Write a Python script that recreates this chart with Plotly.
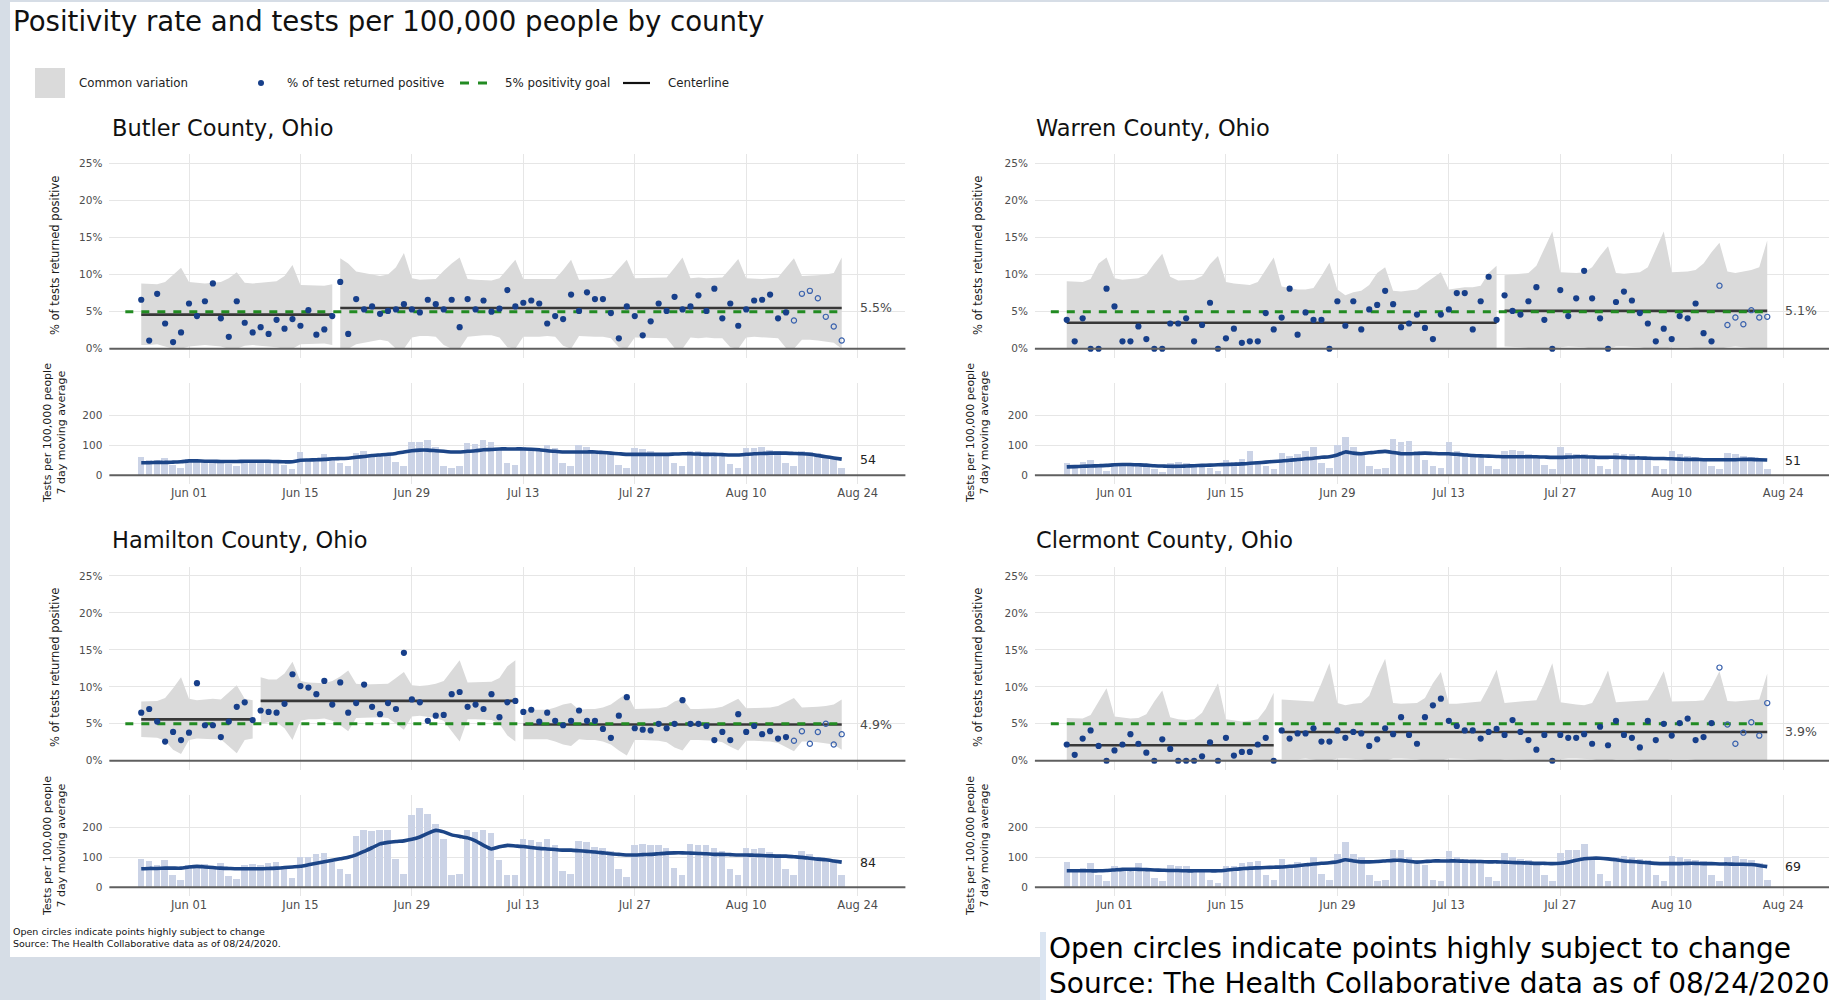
import plotly.graph_objects as go
import pandas as pd

FONT = "DejaVu Sans, Liberation Sans, Arial, sans-serif"

# ---------------- data ----------------
dates = [d.strftime("%Y-%m-%d") for d in pd.date_range("2020-05-26", "2020-08-22", freq="D")]
tick_dates = ["2020-06-01", "2020-06-15", "2020-06-29", "2020-07-13", "2020-07-27", "2020-08-10", "2020-08-24"]
tick_labels = ["Jun 01", "Jun 15", "Jun 29", "Jul 13", "Jul 27", "Aug 10", "Aug 24"]
pct_ticks = [0, 5, 10, 15, 20, 25]
pct_labels = ["0%", "5%", "10%", "15%", "20%", "25%"]
test_ticks = [0, 100, 200]
goal = 5
goal_start = "2020-05-24"
open_from = "2020-08-16"
label_date = "2020-08-24"

county_names = ["Butler County, Ohio", "Warren County, Ohio", "Hamilton County, Ohio", "Clermont County, Ohio"]

# Butler
butler_pos = [6.6, 1.1, 7.4, 3.4, 0.9, 2.2, 6.1,
              4.4, 6.4, 8.8, 4.1, 1.6, 6.4, 3.5,
              2.2, 2.9, 2.0, 3.9, 2.7, 4.0, 3.1,
              5.2, 1.9, 2.6, 4.4, 9.0, 2.0, 6.7,
              5.3, 5.7, 4.7, 5.1, 5.3, 6.0, 5.3,
              4.9, 6.6, 6.0, 5.3, 6.6, 2.9, 6.7,
              5.3, 6.5, 5.0, 5.4, 7.9, 5.7, 6.2,
              6.5, 6.1, 3.4, 4.4, 4.0, 7.3, 5.1,
              7.6, 6.7, 6.7, 4.8, 1.4, 5.7, 4.4,
              1.8, 3.7, 6.1, 5.1, 7.0, 5.3, 5.7,
              7.2, 5.1, 8.1, 4.1, 6.1, 3.1, 5.3,
              6.5, 6.6, 7.3, 4.1, 4.9, 3.8, 7.4,
              7.8, 6.8, 4.3, 3.0, 1.1]
butler_hi = [8.8, 8.8, 8.7, 9.0, 10.0, 10.9, 9.0,
             8.9, 8.8, 8.9, 9.0, 9.5, 10.3, 8.9,
             8.8, 8.9, 9.0, 9.1, 9.8, 11.3, 8.6,
             8.6, 8.5, 8.5, 8.7, 12.2, 11.5, 10.4,
             10.2, 10.0, 9.8, 10.0, 11.0, 12.9, 9.5,
             9.3, 9.3, 9.4, 10.5, 11.5, 12.3, 9.4,
             9.3, 9.2, 9.2, 9.5, 10.8, 12.0, 9.4,
             9.4, 9.4, 9.3, 9.4, 10.6, 12.0, 9.3,
             9.3, 9.4, 9.4, 9.6, 10.8, 12.0, 9.5,
             9.5, 9.5, 9.6, 9.6, 10.9, 12.3, 9.5,
             9.6, 9.5, 9.6, 9.6, 10.8, 12.1, 9.5,
             9.4, 9.4, 9.5, 9.6, 10.9, 12.2, 9.8,
             9.8, 9.9, 10.0, 10.2, 12.3]
butler_lo = [0.5, 0.5, 0.6, 0.3, 0, 0, 0.3,
             0.4, 0.5, 0.4, 0.3, 0, 0, 0.4,
             0.5, 0.4, 0.3, 0.2, 0, 0, 0.6,
             0.6, 0.7, 0.7, 0.5, 0, 0, 0.6,
             0.8, 1.0, 1.2, 1.0, 0, 0, 1.5,
             1.7, 1.7, 1.6, 0.5, 0, 0, 1.6,
             1.7, 1.8, 1.8, 1.5, 0.2, 0, 1.6,
             1.6, 1.6, 1.7, 1.6, 0.4, 0, 1.7,
             1.7, 1.6, 1.6, 1.4, 0.2, 0, 1.5,
             1.5, 1.5, 1.4, 1.4, 0.1, 0, 1.5,
             1.4, 1.5, 1.4, 1.4, 0.2, 0, 1.5,
             1.6, 1.6, 1.5, 1.4, 0.1, 0, 1.2,
             1.2, 1.1, 1.0, 0.8, 0]
butler_seg_starts = [0, 25]
butler_center = [4.6, 5.5]
butler_tests = [60, 50, 50, 58, 35, 25, 55,
                52, 50, 50, 48, 38, 30, 50,
                50, 48, 50, 45, 35, 22, 78,
                55, 55, 70, 55, 40, 30, 75,
                80, 70, 72, 75, 45, 30, 112,
                110, 118, 95, 30, 25, 30, 108,
                105, 118, 110, 90, 40, 35, 95,
                90, 80, 100, 90, 40, 30, 100,
                95, 85, 80, 70, 35, 25, 90,
                88, 80, 75, 72, 40, 30, 80,
                82, 78, 75, 72, 38, 25, 90,
                92, 95, 85, 80, 40, 30, 82,
                78, 75, 65, 60, 25]
butler_ma = [42, 42, 43, 43, 44, 45, 48,
             48, 47, 47, 46, 46, 46, 47,
             47, 47, 47, 46, 45, 45, 50,
             51, 52, 53, 55, 56, 57, 60,
             63, 66, 68, 70, 73, 78, 82,
             84, 84, 82, 80, 78, 78, 80,
             82, 85, 86, 88, 88, 88, 88,
             87, 85, 82, 80, 78, 78, 78,
             78, 78, 76, 74, 72, 70, 70,
             70, 70, 70, 70, 71, 72, 72,
             71, 70, 70, 69, 68, 68, 70,
             72, 73, 74, 74, 74, 73, 72,
             70, 66, 62, 58, 54]

# Warren
warren_pos = [3.9, 1.0, 4.1, 0, 0, 8.1, 5.7,
              1.0, 1.0, 3.0, 1.3, 0, 0, 3.4,
              3.4, 4.1, 1.0, 3.2, 6.2, 0, 1.4,
              2.7, 0.8, 1.0, 1.0, 4.8, 2.6, 4.2,
              8.1, 1.9, 4.9, 3.9, 3.9, 0, 6.4,
              3.1, 6.4, 2.6, 5.3, 5.9, 7.8, 6.0,
              2.9, 3.4, 4.6, 2.8, 1.3, 4.6, 5.3,
              7.5, 7.5, 2.6, 6.4, 9.7, 3.9, 7.2,
              5.1, 4.6, 6.4, 8.3, 3.9, 0, 7.9,
              4.4, 6.8, 10.5, 6.8, 4.1, 0, 6.3,
              7.7, 6.5, 4.8, 3.4, 1.0, 2.7, 1.3,
              4.4, 4.1, 6.1, 2.1, 1.0, 8.5, 3.2,
              4.2, 3.3, 5.2, 4.2, 4.3]
warren_hi = [9.1, 9.1, 9.0, 9.4, 11.5, 12.3, 9.5,
             9.3, 9.4, 9.5, 10.0, 11.5, 12.8, 9.7,
             9.2, 9.3, 9.3, 9.8, 11.4, 12.5, 9.0,
             8.8, 8.7, 8.6, 9.0, 10.6, 12.3, 8.4,
             8.2, 8.0, 8.0, 8.2, 9.8, 11.6, 8.0,
             7.2, 7.6, 7.8, 8.6, 10.2, 11.0, 7.8,
             7.7, 7.8, 8.0, 8.8, 9.6, 10.3, 8.0,
             8.2, 8.3, 8.3, 8.5, 10.2, 11.2, 9.9,
             10.0, 10.0, 10.2, 11.2, 13.5, 15.8, 10.3,
             10.2, 10.2, 10.3, 11.0, 12.5, 13.8, 10.2,
             10.1, 10.2, 10.3, 11.0, 13.5, 15.8, 10.3,
             10.3, 10.4, 10.6, 11.5, 13.0, 14.3, 10.4,
             10.2, 10.4, 10.6, 11.0, 14.6]
warren_lo = [0, 0, 0, 0, 0, 0, 0,
             0, 0, 0, 0, 0, 0, 0,
             0, 0, 0, 0, 0, 0, 0,
             0, 0, 0, 0, 0, 0, 0,
             0, 0, 0, 0, 0, 0, 0,
             0, 0, 0, 0, 0, 0, 0,
             0, 0, 0, 0, 0, 0, 0,
             0, 0, 0, 0, 0, 0, 0.3,
             0.2, 0.2, 0.1, 0, 0, 0, 0.2,
             0.3, 0.3, 0.2, 0, 0, 0, 0.3,
             0.3, 0.3, 0.2, 0, 0, 0, 0.2,
             0.2, 0.2, 0.1, 0, 0, 0, 0.2,
             0.3, 0.2, 0.1, 0, 0]
warren_seg_starts = [0, 55]
warren_center = [3.5, 5.1]
warren_tests = [40, 35, 45, 50, 30, 15, 40,
                38, 42, 35, 30, 20, 12, 40,
                45, 42, 35, 30, 25, 15, 50,
                45, 55, 80, 48, 30, 20, 75,
                65, 70, 80, 95, 40, 25, 100,
                128, 95, 70, 30, 20, 25, 120,
                110, 115, 80, 50, 30, 25, 110,
                80, 75, 70, 65, 30, 20, 80,
                85, 82, 70, 65, 35, 20, 95,
                75, 70, 70, 65, 30, 20, 75,
                70, 70, 62, 60, 30, 20, 80,
                70, 65, 60, 58, 30, 20, 75,
                70, 65, 62, 55, 20]
warren_ma = [28, 29, 30, 31, 32, 33, 35,
             36, 36, 35, 34, 32, 31, 30,
             30, 31, 32, 33, 34, 35, 36,
             37, 38, 40, 42, 44, 46, 48,
             50, 53, 55, 57, 60, 62, 68,
             78, 74, 72, 75, 78, 80, 76,
             72, 72, 73, 74, 73, 72, 72,
             70, 68, 66, 65, 64, 63, 62,
             62, 62, 62, 62, 61, 60, 60,
             61, 62, 62, 61, 60, 60, 60,
             59, 58, 58, 57, 56, 56, 55,
             54, 53, 53, 52, 52, 52, 52,
             52, 53, 53, 52, 51]

# Hamilton
hamilton_pos = [6.5, 7.0, 5.3, 2.6, 3.9, 2.8, 3.8,
                10.5, 4.8, 4.8, 3.2, 5.3, 7.3, 7.9,
                5.5, 6.8, 6.6, 6.5, 7.7, 11.7, 10.1,
                9.9, 9.0, 10.8, 7.6, 10.6, 6.5, 7.8,
                10.3, 7.3, 6.3, 7.8, 7.0, 14.6, 8.3,
                7.9, 5.4, 6.1, 6.2, 9.0, 9.3, 7.3,
                7.6, 7.0, 9.0, 5.9, 7.9, 8.1, 6.6,
                6.9, 5.3, 6.5, 5.4, 4.8, 5.4, 6.8,
                5.4, 5.4, 4.3, 3.1, 6.1, 8.6, 4.4,
                4.2, 4.1, 5.0, 4.4, 5.0, 8.2, 5.0,
                5.0, 4.7, 2.8, 3.9, 2.8, 6.3, 3.9,
                4.7, 3.6, 4.0, 3.0, 3.2, 2.7, 4.0,
                2.3, 3.9, 5.0, 2.2, 3.6]
hamilton_hi = [8.0, 8.0, 8.1, 8.5, 9.8, 11.3, 8.4,
               8.2, 8.3, 8.4, 8.3, 9.2, 10.2, 8.4,
               8.2, 11.3, 11.0, 11.0, 11.8, 13.4, 10.8,
               10.6, 10.6, 10.5, 10.8, 11.4, 12.2, 10.4,
               10.3, 10.3, 10.3, 10.4, 11.2, 12.0, 10.2,
               10.1, 10.2, 10.4, 10.8, 12.2, 13.6, 10.6,
               10.6, 10.6, 10.7, 11.2, 12.8, 13.6, 6.9,
               6.9, 6.9, 6.9, 7.2, 7.6, 7.8, 6.9,
               7.0, 7.0, 7.2, 7.6, 8.4, 9.1, 7.0,
               7.0, 7.0, 7.1, 7.3, 8.0, 8.4, 7.0,
               7.0, 7.0, 7.1, 7.3, 7.9, 8.4, 7.1,
               7.1, 7.1, 7.2, 7.4, 8.0, 8.5, 7.2,
               7.2, 7.3, 7.4, 7.6, 8.3]
hamilton_lo = [3.2, 3.2, 3.1, 2.7, 1.5, 0.9, 2.8,
               3.0, 3.0, 2.9, 2.9, 2.0, 1.0, 2.8,
               3.0, 5.0, 5.2, 5.2, 4.4, 2.8, 5.4,
               5.6, 5.6, 5.7, 5.4, 4.8, 4.0, 5.8,
               5.9, 5.9, 5.9, 5.8, 5.0, 4.2, 6.0,
               6.1, 6.0, 5.8, 5.4, 4.0, 2.6, 5.6,
               5.6, 5.6, 5.5, 5.0, 3.4, 2.6, 2.9,
               2.9, 2.9, 2.9, 2.6, 2.2, 2.0, 2.9,
               2.8, 2.8, 2.6, 2.2, 1.4, 0.7, 2.8,
               2.8, 2.8, 2.7, 2.5, 1.8, 1.4, 2.8,
               2.8, 2.8, 2.7, 2.5, 1.9, 1.4, 2.7,
               2.7, 2.7, 2.6, 2.4, 1.8, 1.3, 2.6,
               2.6, 2.5, 2.4, 2.2, 1.5]
hamilton_seg_starts = [0, 15, 48]
hamilton_center = [5.6, 8.1, 4.9]
hamilton_tests = [95, 88, 75, 92, 40, 25, 75,
                  72, 78, 68, 82, 38, 28, 75,
                  78, 75, 80, 85, 70, 30, 100,
                  102, 110, 115, 85, 60, 45, 170,
                  190, 188, 190, 190, 95, 45, 240,
                  265, 245, 210, 160, 40, 45, 190,
                  185, 190, 180, 90, 40, 40, 160,
                  158, 150, 160, 140, 55, 45, 155,
                  150, 135, 130, 120, 60, 35, 140,
                  145, 140, 140, 130, 65, 40, 145,
                  140, 140, 130, 120, 60, 40, 132,
                  128, 130, 118, 112, 60, 40, 120,
                  110, 100, 95, 90, 42]
hamilton_ma = [62, 63, 63, 64, 64, 64, 68,
               70, 68, 66, 64, 63, 62, 62,
               62, 62, 63, 64, 66, 68, 70,
               75, 80, 85, 90, 95, 100, 108,
               120, 132, 145, 150, 153, 155, 160,
               168, 180, 190, 185, 175, 170, 165,
               155, 140, 128, 135, 140, 138, 136,
               133, 130, 128, 126, 124, 124, 122,
               120, 118, 115, 112, 110, 108, 108,
               109, 110, 112, 114, 115, 115, 114,
               113, 112, 110, 110, 109, 108, 108,
               107, 106, 105, 104, 104, 102, 100,
               97, 94, 92, 88, 84]

# Clermont
clermont_pos = [2.2, 0.8, 3.0, 4.1, 2.0, 0, 1.4,
                2.2, 3.6, 2.3, 1.1, 0, 2.9, 1.6,
                0, 0, 0, 0.6, 2.5, 0, 3.1,
                0.7, 1.2, 1.2, 2.2, 3.1, 0, 4.1,
                3.0, 3.7, 3.7, 4.4, 2.6, 2.6, 4.1,
                3.1, 3.9, 3.7, 2.0, 2.9, 4.4, 3.6,
                5.9, 3.5, 2.3, 5.9, 7.5, 8.4, 5.4,
                4.7, 4.1, 4.1, 3.0, 3.9, 4.3, 3.5,
                5.5, 3.9, 2.8, 1.5, 3.5, 0, 3.5,
                3.1, 3.1, 3.6, 2.3, 4.6, 2.1, 5.4,
                3.5, 3.1, 1.8, 5.4, 2.8, 5.0, 3.4,
                5.1, 5.7, 2.8, 3.2, 5.1, 12.6, 4.9,
                2.3, 3.8, 5.2, 3.4, 7.8]
clermont_hi = [5.8, 5.8, 5.7, 6.2, 8.0, 9.8, 6.0,
               5.8, 5.7, 5.8, 6.3, 8.0, 9.5, 5.9,
               5.6, 5.5, 5.6, 6.5, 8.6, 10.5, 5.6,
               5.4, 5.3, 5.4, 5.6, 7.0, 9.2, 8.3,
               8.2, 8.1, 8.0, 8.0, 10.5, 13.2, 7.8,
               7.5, 7.7, 7.8, 8.8, 11.5, 13.8, 7.8,
               7.7, 7.8, 7.8, 8.5, 10.5, 12.0, 7.7,
               7.7, 7.8, 7.8, 8.0, 10.0, 12.3, 7.8,
               7.9, 7.9, 8.0, 8.2, 10.5, 13.2, 7.9,
               7.7, 7.6, 7.5, 7.8, 9.8, 12.2, 7.9,
               8.0, 8.0, 8.1, 8.2, 10.0, 12.1, 8.0,
               8.0, 8.0, 8.1, 8.2, 10.0, 12.1, 8.1,
               8.0, 8.1, 8.2, 8.3, 11.8]
clermont_lo = [0, 0, 0, 0, 0, 0, 0,
               0, 0, 0, 0, 0, 0, 0,
               0, 0, 0, 0, 0, 0, 0,
               0, 0, 0, 0, 0, 0, 0.2,
               0.2, 0.2, 0.3, 0.2, 0, 0, 0.3,
               0.3, 0.3, 0.2, 0, 0, 0, 0.3,
               0.3, 0.3, 0.2, 0, 0, 0, 0.3,
               0.3, 0.2, 0.2, 0.1, 0, 0, 0.2,
               0.2, 0.2, 0.1, 0.1, 0, 0, 0.2,
               0.3, 0.3, 0.3, 0.2, 0, 0, 0.2,
               0.2, 0.2, 0.1, 0.1, 0, 0, 0.2,
               0.2, 0.2, 0.1, 0.1, 0, 0, 0.1,
               0.2, 0.1, 0.1, 0.1, 0]
clermont_seg_starts = [0, 27]
clermont_center = [2.1, 3.9]
clermont_tests = [85, 62, 65, 80, 40, 20, 70,
                  65, 60, 80, 55, 30, 20, 75,
                  70, 72, 60, 50, 25, 15, 70,
                  70, 80, 85, 88, 40, 25, 95,
                  75, 85, 75, 100, 45, 25, 110,
                  150, 110, 100, 40, 20, 25, 125,
                  125, 100, 90, 75, 25, 20, 120,
                  100, 95, 95, 90, 35, 20, 115,
                  100, 95, 90, 85, 40, 20, 115,
                  125, 125, 145, 100, 45, 20, 100,
                  105, 100, 95, 90, 40, 20, 105,
                  100, 95, 90, 88, 40, 20, 100,
                  105, 95, 90, 80, 25]
clermont_ma = [55, 55, 55, 55, 55, 56, 58,
               60, 60, 60, 59, 58, 57, 56,
               56, 55, 55, 55, 55, 55, 57,
               60, 62, 64, 65, 66, 67, 68,
               70, 72, 75, 78, 80, 82, 85,
               92, 88, 85, 85, 86, 88, 90,
               90, 87, 84, 86, 88, 88, 88,
               88, 87, 86, 86, 85, 85, 84,
               83, 82, 81, 80, 80, 79, 80,
               84, 90, 95, 97, 97, 95, 92,
               88, 86, 84, 82, 80, 79, 79,
               79, 80, 80, 79, 79, 78, 78,
               77, 77, 76, 73, 69]

# ---------------- styling / layout ----------------
W, H = 1829, 1000
BAND = "#dadada"
NAVY = "#173f8a"
OPEN = "#3a62ad"
BAR = "#cbd3e6"
MA_LINE = "#1c4587"
GREEN = "#228b22"
CENTER = "#383838"
GRID = "#e6e6e6"
FRAME = "#d6dde6"


def fx(p):
    return p / W


def fy(p):
    return 1 - p / H


panels = [
    dict(pos=butler_pos, hi=butler_hi, lo=butler_lo, seg=butler_seg_starts, center=butler_center,
         tests=butler_tests, ma=butler_ma),
    dict(pos=warren_pos, hi=warren_hi, lo=warren_lo, seg=warren_seg_starts, center=warren_center,
         tests=warren_tests, ma=warren_ma),
    dict(pos=hamilton_pos, hi=hamilton_hi, lo=hamilton_lo, seg=hamilton_seg_starts, center=hamilton_center,
         tests=hamilton_tests, ma=hamilton_ma),
    dict(pos=clermont_pos, hi=clermont_hi, lo=clermont_lo, seg=clermont_seg_starts, center=clermont_center,
         tests=clermont_tests, ma=clermont_ma),
]

# column geometry: (left px, right px, x-range end)
cols = [(109.4, 905.4, "2020-08-30"), (1034.9, 1829.0, "2020-08-29 18:14")]
# row geometry (pixels from top)
rows = [dict(top=(154.0, 358.0), bot=(383.0, 484.0), title=128, ytitle_top=256, ytitle_bot=433),
        dict(top=(566.7, 770.0), bot=(795.0, 896.0), title=540, ytitle_top=668, ytitle_bot=846)]
title_x = [110, 1034]
ytitle_x = [55, 978]

fig = go.Figure()
layout = dict()
shapes = []
annotations = []


def ax(n, kind):
    return kind if n == 1 else f"{kind}{n}"


for k, p in enumerate(panels):
    c, r = k % 2, k // 2
    left, right, xend = cols[c]
    R = rows[r]
    nt, nb = 2 * k + 1, 2 * k + 2
    xt, yt, xb, yb = ax(nt, "x"), ax(nt, "y"), ax(nb, "x"), ax(nb, "y")

    # common-variation band segments and centerlines
    starts = p["seg"] + [len(dates)]
    for s in range(len(p["seg"])):
        a, b = starts[s], starts[s + 1]
        xs = dates[a:b]
        fig.add_trace(go.Scatter(x=xs + xs[::-1], y=p["hi"][a:b] + p["lo"][a:b][::-1],
                                 fill="toself", fillcolor=BAND, mode="lines", line=dict(width=0),
                                 hoverinfo="skip", showlegend=False, xaxis=xt, yaxis=yt))
    for s in range(len(p["seg"])):
        a, b = starts[s], starts[s + 1]
        fig.add_trace(go.Scatter(x=[dates[a], dates[b - 1]], y=[p["center"][s], p["center"][s]],
                                 mode="lines", line=dict(color=CENTER, width=2.6),
                                 hoverinfo="skip", showlegend=False, xaxis=xt, yaxis=yt))
    # goal line
    fig.add_trace(go.Scatter(x=[goal_start, dates[-1]], y=[goal, goal], mode="lines",
                             line=dict(color=GREEN, width=3, dash="8px,8px"),
                             hoverinfo="skip", showlegend=False, xaxis=xt, yaxis=yt))
    # points
    f_d = [d for d in dates if d < open_from]
    f_v = [v for d, v in zip(dates, p["pos"]) if d < open_from]
    o_d = [d for d in dates if d >= open_from]
    o_v = [v for d, v in zip(dates, p["pos"]) if d >= open_from]
    fig.add_trace(go.Scatter(x=f_d, y=f_v, mode="markers",
                             marker=dict(color=NAVY, size=6.2, line=dict(width=0)),
                             showlegend=False, xaxis=xt, yaxis=yt))
    fig.add_trace(go.Scatter(x=o_d, y=o_v, mode="markers",
                             marker=dict(symbol="circle-open", color=OPEN, size=5.2, line=dict(width=1.2)),
                             showlegend=False, xaxis=xt, yaxis=yt))
    # tests bars and moving average
    fig.add_trace(go.Bar(x=dates, y=p["tests"], marker=dict(color=BAR, line=dict(width=0)),
                         width=0.82 * 86400000, showlegend=False, xaxis=xb, yaxis=yb))
    fig.add_trace(go.Scatter(x=dates, y=p["ma"], mode="lines",
                             line=dict(color=MA_LINE, width=3.6, shape="spline", smoothing=0.6),
                             showlegend=False, xaxis=xb, yaxis=yb))

    xcommon = dict(domain=[fx(left), fx(right)], range=["2020-05-22", xend], type="date",
                   tickvals=tick_dates, ticktext=tick_labels, showgrid=True, gridcolor=GRID,
                   gridwidth=1.4, zeroline=False, showline=False, ticks="",
                   tickfont=dict(family=FONT, size=11.5, color="#4d4d4d"), fixedrange=True)
    layout["xaxis" if nt == 1 else f"xaxis{nt}"] = dict(xcommon, anchor=yt, showticklabels=False)
    layout[f"xaxis{nb}"] = dict(xcommon, anchor=yb, showticklabels=True)
    layout["yaxis" if nt == 1 else f"yaxis{nt}"] = dict(
        domain=[fy(R["top"][1]), fy(R["top"][0])], range=[-1.25, 26.25], anchor=xt,
        tickvals=pct_ticks, ticktext=pct_labels, showgrid=True, gridcolor=GRID, gridwidth=1.4,
        zeroline=False, showline=False, ticks="", ticklabelstandoff=6,
        tickfont=dict(family=FONT, size=10.5, color="#4d4d4d"), fixedrange=True)
    layout[f"yaxis{nb}"] = dict(
        domain=[fy(R["bot"][1]), fy(R["bot"][0])], range=[-29, 308], anchor=xb,
        tickvals=test_ticks, showgrid=True, gridcolor=GRID, gridwidth=1.4,
        zeroline=False, showline=False, ticks="", ticklabelstandoff=6,
        tickfont=dict(family=FONT, size=10.5, color="#4d4d4d"), fixedrange=True)

    # zero lines
    for xn, yn in ((xt, yt), (xb, yb)):
        shapes.append(dict(type="line", xref=f"{xn} domain", yref=yn, x0=0, x1=1, y0=0, y1=0,
                           line=dict(color="#5f5f5f", width=2)))

    # labels of last values
    annotations.append(dict(x=label_date, y=p["center"][-1], xref=xt, yref=yt, text=f"{p['center'][-1]}%",
                            showarrow=False, xanchor="left", yanchor="middle",
                            font=dict(family=FONT, size=12.5, color="#4a4a4a")))
    annotations.append(dict(x=label_date, y=p["ma"][-1], xref=xb, yref=yb, text=f"{p['ma'][-1]}",
                            showarrow=False, xanchor="left", yanchor="middle",
                            font=dict(family=FONT, size=12.5, color="#222222")))
    # county title
    annotations.append(dict(x=fx(title_x[c]), y=fy(R["title"]), xref="paper", yref="paper",
                            text=county_names[k], showarrow=False, xanchor="left", yanchor="middle",
                            font=dict(family=FONT, size=22.5, color="#111111")))
    # axis titles
    annotations.append(dict(x=fx(ytitle_x[c]), y=fy(R["ytitle_top"]), xref="paper", yref="paper",
                            text="% of tests returned positive", textangle=-90, showarrow=False,
                            xanchor="center", yanchor="middle",
                            font=dict(family=FONT, size=11.5, color="#1a1a1a")))
    annotations.append(dict(x=fx(ytitle_x[c] - 1), y=fy(R["ytitle_bot"]), xref="paper", yref="paper",
                            text="Tests per 100,000 people<br>7 day moving average", textangle=-90,
                            showarrow=False, xanchor="center", yanchor="middle",
                            font=dict(family=FONT, size=11, color="#1a1a1a")))

# main title
annotations.append(dict(x=fx(11), y=fy(21), xref="paper", yref="paper",
                        text="Positivity rate and tests per 100,000 people by county", showarrow=False,
                        xanchor="left", yanchor="middle", font=dict(family=FONT, size=27.6, color="#111111")))
# legend (drawn manually)
shapes.append(dict(type="rect", xref="paper", yref="paper", x0=fx(35), x1=fx(65), y0=fy(98), y1=fy(68),
                   fillcolor=BAND, line=dict(width=0)))
shapes.append(dict(type="circle", xref="paper", yref="paper", x0=fx(258), x1=fx(264), y0=fy(86), y1=fy(80),
                   fillcolor=NAVY, line=dict(width=0)))
shapes.append(dict(type="line", xref="paper", yref="paper", x0=fx(460), x1=fx(469), y0=fy(83), y1=fy(83),
                   line=dict(color=GREEN, width=3)))
shapes.append(dict(type="line", xref="paper", yref="paper", x0=fx(478), x1=fx(487), y0=fy(83), y1=fy(83),
                   line=dict(color=GREEN, width=3)))
shapes.append(dict(type="line", xref="paper", yref="paper", x0=fx(623), x1=fx(650), y0=fy(83), y1=fy(83),
                   line=dict(color="#111111", width=2.2)))
for tx, txt in ((77, "Common variation"), (285, "% of test returned positive"),
                (503, "5% positivity goal"), (666, "Centerline")):
    annotations.append(dict(x=fx(tx), y=fy(83), xref="paper", yref="paper", text=txt, showarrow=False,
                            xanchor="left", yanchor="middle", font=dict(family=FONT, size=11.8, color="#222222")))

# small caption (bottom-left)
annotations.append(dict(x=fx(11), y=fy(937), xref="paper", yref="paper",
                        text="Open circles indicate points highly subject to change<br>"
                             "Source: The Health Collaborative data as of 08/24/2020.",
                        showarrow=False, xanchor="left", yanchor="middle", align="left",
                        font=dict(family=FONT, size=9.5, color="#111111")))

# page frame (slide background around the chart)
shapes.append(dict(type="rect", xref="paper", yref="paper", x0=0, x1=fx(10), y0=0, y1=1,
                   fillcolor=FRAME, line=dict(width=0), layer="below"))
shapes.append(dict(type="rect", xref="paper", yref="paper", x0=0, x1=1, y0=fy(2), y1=1,
                   fillcolor=FRAME, line=dict(width=0), layer="below"))
shapes.append(dict(type="rect", xref="paper", yref="paper", x0=0, x1=fx(1041), y0=0, y1=fy(957),
                   fillcolor=FRAME, line=dict(width=0)))
shapes.append(dict(type="rect", xref="paper", yref="paper", x0=fx(1041), x1=1, y0=0, y1=fy(932),
                   fillcolor="#ffffff", line=dict(width=0)))
shapes.append(dict(type="rect", xref="paper", yref="paper", x0=fx(1040), x1=fx(1046), y0=0, y1=fy(932),
                   fillcolor="#dbe5f1", line=dict(width=0)))
for ty, txt in ((948, "Open circles indicate points highly subject to change"),
                (983, "Source: The Health Collaborative data as of 08/24/2020")):
    annotations.append(dict(x=fx(1047), y=fy(ty), xref="paper", yref="paper", text=txt,
                            showarrow=False, xanchor="left", yanchor="middle", align="left",
                            font=dict(family=FONT, size=28, color="#000000")))

fig.update_layout(width=W, height=H, margin=dict(l=0, r=0, t=0, b=0),
                  paper_bgcolor="#ffffff", plot_bgcolor="#ffffff", showlegend=False,
                  bargap=0, shapes=shapes, annotations=annotations, **layout)

fig.write_html("out.html", config={"displayModeBar": False},
               post_script="document.body.style.margin='0';document.body.style.padding='0';"
                           "document.body.style.overflow='hidden';")
